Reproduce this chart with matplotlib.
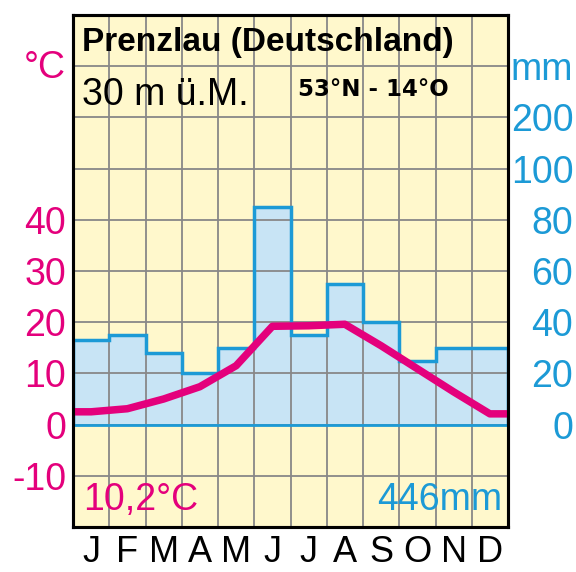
import numpy as np
import matplotlib
matplotlib.use('Agg')
import matplotlib.pyplot as plt

# Klimadiagramm Prenzlau
months = ['J', 'F', 'M', 'A', 'M', 'J', 'J', 'A', 'S', 'O', 'N', 'D']
temp = [2.5, 3.1, 5.0, 7.4, 11.5, 19.2, 19.3, 19.6, 15.4, 10.9, 6.4, 2.1]   # °C
precip = [33, 35, 28, 20, 30, 85, 35, 55, 40, 25, 30, 30]                   # mm

temp_ticks = [-10, 0, 10, 20, 30, 40]
temp_labels = ['-10', '0', '10', '20', '30', '40']
mm_ticks = [0, 20, 40, 60, 80, 100, 200]
mm_labels = ['0', '20', '40', '60', '80', '100', '200']

magenta = '#E4007C'
blue = '#1C9AD6'
fill_blue = '#C8E4F5'
bg = '#FFF8CC'
grid_col = '#888888'

plt.rcParams['font.family'] = ['Liberation Sans', 'DejaVu Sans']

fig = plt.figure(figsize=(5.76, 5.72), dpi=100)
ax = fig.add_axes([73/576, 1 - 527/572, 435/576, 512/572])
ax.set_facecolor(bg)
ax.set_xlim(0, 12)
ax.set_ylim(-20, 80)

# niederschlag: 20 mm = 10 °C (bis 100 mm), darueber 100 mm = 10 °C
def mm_to_t(p):
    p = np.asarray(p, dtype=float)
    return np.where(p <= 100, p / 2.0, 50 + (p - 100) / 10.0)

edges = np.arange(13)
pt = mm_to_t(precip)
ax.stairs(pt, edges, baseline=0, fill=True, color=fill_blue, zorder=1)
ax.stairs(pt, edges, baseline=0, fill=False, color=blue, lw=2.5, zorder=3)

# gitter
ax.vlines(edges, -20, 80, color=grid_col, lw=1.3, zorder=2)
ax.hlines(np.arange(-20, 81, 10), 0, 12, color=grid_col, lw=1.3, zorder=2)
ax.axhline(0, color=blue, lw=2.0, zorder=3)

# temperaturkurve
xc = np.arange(12) + 0.5
xt = np.r_[0, xc, 12]
yt = np.r_[temp[0], temp, temp[-1]]
ax.plot(xt, yt, color=magenta, lw=5.4, solid_joinstyle='round',
        solid_capstyle='butt', zorder=4)

# achsen
ax.set_xticks(xc)
ax.set_xticklabels(months, fontsize=26)
ax.tick_params(axis='x', which='both', length=0, pad=6)
ax.set_yticks(temp_ticks + [70.5])
ax.set_yticklabels(temp_labels + ['°C'], fontsize=27, color=magenta)
ax.tick_params(axis='y', which='both', length=0, pad=5)

ax2 = ax.twinx()
ax2.set_ylim(ax.get_ylim())
ax2.set_yticks(list(mm_to_t(mm_ticks)) + [70])
ax2.set_yticklabels(mm_labels + ['mm'], fontsize=27, color=blue, ha='right')
ax2.tick_params(axis='y', length=0, pad=47)

for a in (ax, ax2):
    for s in a.spines.values():
        s.set_linewidth(2.2)
        s.set_color('black')
        s.set_zorder(6)

# beschriftung
ax.text(0.25, 74.6, 'Prenzlau (Deutschland)', fontsize=24, fontweight='bold',
        va='center', ha='left', zorder=5)
ax.text(0.25, 64.3, '30 m ü.M.', fontsize=27, va='center', ha='left', zorder=5)
ax.text(6.2, 65.5, '53°N - 14°O', fontsize=16.5, fontweight='bold',
        family='DejaVu Sans', va='center', ha='left', zorder=5)
ax.text(0.28, -14.8, '10,2°C', fontsize=27, color=magenta, va='center', ha='left', zorder=5)
ax.text(11.85, -14.8, '446mm', fontsize=27, color=blue, va='center', ha='right', zorder=5)

fig.savefig('out.png', dpi=100)
